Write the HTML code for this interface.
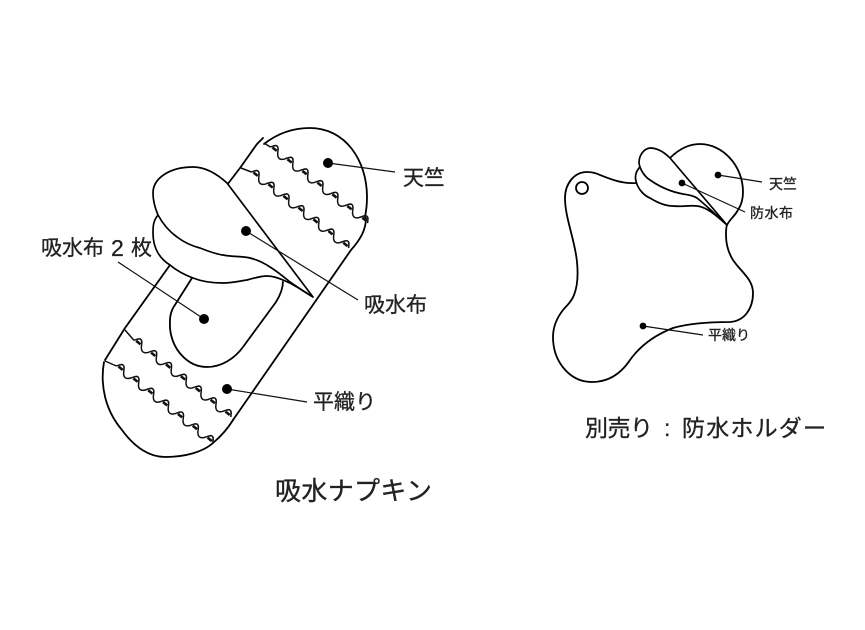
<!DOCTYPE html>
<html lang="ja">
<head>
<meta charset="utf-8">
<title>吸水ナプキン</title>
<style>
html,body{margin:0;padding:0;background:#fff;}
svg{display:block;}
text{font-family:"Liberation Sans","Noto Sans CJK JP",sans-serif;fill:#222;stroke:#222;stroke-width:.3;}
.l{fill:none;stroke:#000;stroke-width:1.8;stroke-linejoin:round;stroke-linecap:round;}
.t{fill:none;stroke:#111;stroke-width:1.2;}
.w{fill:none;stroke:#111;stroke-width:1.5;}
.d{fill:none;stroke:#111;stroke-width:2.6;stroke-dasharray:5.5 13.5;}
.f{fill:#fff;stroke:#000;stroke-width:1.7;stroke-linejoin:round;}
</style>
</head>
<body>
<svg width="865" height="630" viewBox="0 0 865 630" xmlns="http://www.w3.org/2000/svg">
<rect width="865" height="630" fill="#fff"/>
<defs>
<g id="band">
<path class="w" d="M-4.75 0 c1.6 -2.5 2.7 -5 4.75 -5 c2.05 0 3.15 2.5 4.75 5 c1.6 2.5 2.7 3.5 4.75 3.5 c2.05 0 3.15 -1 4.75 -3.5 c1.6 -2.5 2.7 -5 4.75 -5 c2.05 0 3.15 2.5 4.75 5 c1.6 2.5 2.7 3.5 4.75 3.5 c2.05 0 3.15 -1 4.75 -3.5 c1.6 -2.5 2.7 -5 4.75 -5 c2.05 0 3.15 2.5 4.75 5 c1.6 2.5 2.7 3.5 4.75 3.5 c2.05 0 3.15 -1 4.75 -3.5 c1.6 -2.5 2.7 -5 4.75 -5 c2.05 0 3.15 2.5 4.75 5 c1.6 2.5 2.7 3.5 4.75 3.5 c2.05 0 3.15 -1 4.75 -3.5 c1.6 -2.5 2.7 -5 4.75 -5 c2.05 0 3.15 2.5 4.75 5 c1.6 2.5 2.7 3.5 4.75 3.5 c2.05 0 3.15 -1 4.75 -3.5 c1.6 -2.5 2.7 -5 4.75 -5 c2.05 0 3.15 2.5 4.75 5 c1.6 2.5 2.7 3.5 4.75 3.5 c2.05 0 3.15 -1 4.75 -3.5 c1.6 -2.5 2.7 -5 4.75 -5 c2.05 0 3.15 2.5 4.75 5"/>
<path class="d" d="M-2.75 -1 L117 -1"/>
</g>
</defs>

<!-- Napkin body -->
<path class="l" d="M264 144 C278 133 294 128 310 128 C345 128 367 160 367 197 C367 205 366 212 365 217"/>
<path class="l" d="M263 138 L257 144 L240 168 L227 185"/>
<path class="l" d="M366 218 C366 230 360 240 351 250 L233 420"/>
<path class="l" d="M170 265 L125 328 L105 360"/>
<path class="l" d="M104 362 C100 385 105 410 122 430 C135 448 150 457 165 457 C185 457 203 452 213 443 C220 437 227 430 233 420"/>

<!-- Inner pad -->
<path class="l" d="M192 278 L173 308 C169 316 170 323 170 328 C172 350 188 367 207 367 C222 367 235 358 243 347 L276 302 C281 294 283 288 283 281"/>

<!-- Stitched wavy bands -->
<path class="w" d="M264 143 L270.3 147 M241 168 L251.3 172 M125 330 L134 340.4 M105 361 L116.3 366"/>
<use href="#band" transform="translate(274 150) rotate(38)"/>
<use href="#band" transform="translate(255 175) rotate(38)"/>
<use href="#band" transform="translate(137.7 343.3) rotate(38.4)"/>
<use href="#band" transform="translate(120 369) rotate(38.6)"/>

<!-- Napkin flaps -->
<path class="f" d="M158 215 C153 221 153 227 153 233 C153 241 155 248 158 253 C161 258 165 262 170 265 C177 271 185 275 193 278 C203 282 213 283 223 283 C232 283 240 281 247 280 C254 278 261 276 267 276 C273 276 278 278 283 280 C288 282 292 284 297 287 C302 290 308 294 313 297"/>
<path class="f" d="M313 297 L227 183 C216 173 205 167 193 167 C170 167 153 178 153 193 C153 200 155 208 158 215 C164 226 170 232 177 237 C185 243 192 246 200 248 C208 251 215 254 223 255 C233 257 242 256 250 258 C258 260 264 263 270 267 C278 272 284 277 290 282 C297 287 305 292 313 297 Z"/>

<!-- Napkin leaders -->
<path class="t" d="M328 163 L395 172"/>
<path class="t" d="M246 231 L358 300"/>
<path class="t" d="M118 262 L204 319"/>
<path class="t" d="M227 389 L307 402"/>
<circle cx="328" cy="163" r="5"/>
<circle cx="246" cy="231" r="5"/>
<circle cx="204" cy="319" r="5"/>
<circle cx="227" cy="389" r="5"/>

<!-- Holder -->
<path class="l" d="M636 183 C622 184 610 179 600 175 C594 172 590 172 587 172 C574 172 565 184 565 198 C565 218 575 240 577 262 C578 272 578 285 574 295 C571 303 566 306 563 310 C556 319 553 328 553 337 C553 362 570 382 592 382 C610 382 622 372 630 360 C640 346 655 335 673 328 C690 323 710 322 730 322 C745 321 753 308 753 293 C753 279 741 272 733 260 C728 252 726 244 726 235 C726 230 726 227 727 225 C730 219 734 217 738 210 C742 204 743 198 743 192 C743 165 722 144 700 144 C688 144 678 150 670 158"/>
<circle class="l" cx="582" cy="188" r="6"/>
<path class="f" d="M640 167 C635 172 635 178 636 181 C638 190 645 196 650 198 C658 203 665 206 673 206 C682 207 690 205 697 206 C707 207 717 216 727 225"/>
<path class="f" d="M727 225 L670 158 C664 152 657 148 650 148 C643 149 639 156 639 163 C640 170 645 177 650 180 C660 187 672 192 683 194 C690 195 694 196 697 198 C707 206 717 216 727 225 Z"/>
<path class="t" d="M718 175 L762 182"/>
<path class="t" d="M682 183 L745 212"/>
<path class="t" d="M643 326 L703 335"/>
<circle cx="718" cy="175" r="3.4"/>
<circle cx="682" cy="183" r="3.4"/>
<circle cx="643" cy="326" r="3.4"/>

<!-- Labels -->
<text x="403" y="185" font-size="21" textLength="42">天竺</text>
<text x="41" y="255" font-size="21" textLength="63">吸水布</text>
<text x="111" y="256" font-size="23">2</text>
<text x="131" y="255" font-size="21">枚</text>
<text x="364" y="312" font-size="21" textLength="63">吸水布</text>
<text x="313" y="409" font-size="21" textLength="63">平織り</text>
<text x="275" y="500" font-size="26" textLength="157">吸水ナプキン</text>
<text x="769" y="189" font-size="14" textLength="28">天竺</text>
<text x="750" y="218" font-size="14" textLength="43">防水布</text>
<text x="708" y="340" font-size="14" textLength="42">平織り</text>
<text x="585" y="436" font-size="23" textLength="68">別売り</text>
<text x="664" y="436" font-size="23">:</text>
<text x="682" y="436" font-size="23" textLength="144">防水ホルダー</text>
</svg>
</body>
</html>
